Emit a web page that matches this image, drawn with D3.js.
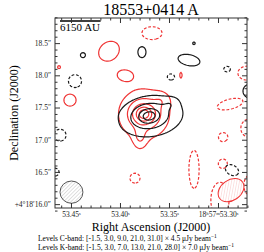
<!DOCTYPE html>
<html lang="en">
<head>
<meta charset="UTF-8">
<title>18553+0414 A</title>
<script src="https://cdn.jsdelivr.net/npm/d3@7"></script>
<style>
  body { margin: 0; background: #fff; }
  text { font-family: "Liberation Serif", "DejaVu Serif", serif; }
</style>
</head>
<body>
<svg width="264" height="252"></svg>
<script>
var title = "18553+0414 A";
// RA in seconds of 18h57m, Dec in arcsec of +4°18'
var xTicks = [53.45, 53.40, 53.35, 53.30];
var xTickLabels = ["53.45ˢ", "53.40ˢ", "53.35ˢ", "18ʰ57ᵐ53.30ˢ"];
var yTicks = [16.0, 16.5, 17.0, 17.5, 18.0, 18.5];
var yTickLabels = ["+4°18′16.0″", "16.5″", "17.0″", "17.5″", "18.0″", "18.5″"];
var raRange = [53.4663, 53.2704];
var decRange = [15.94, 18.89];

var cLevels = [-1.5, 3.0, 9.0, 21.0, 31.0], cRms = 4.5;
var kLevels = [-1.5, 3.0, 7.0, 13.0, 21.0, 28.0], kRms = 7.0;

// emission: [ra, dec, peak (x rms), sigma x ("), sigma y ("), angle]
var cComps = [
  [53.3690, 17.366, 12, 0.30, 0.19, 8],
  [53.3704, 17.370, 26, 0.12, 0.085, 8],
  [53.3490, 17.553, 4, 0.08, 0.06, 20],
  [53.4378, 18.314, 3.6, 0.064, 0.064, 0],
  [53.3776, 18.360, 4.2, 0.075, 0.103, 0],
  [53.3296, 18.236, 4.5, 0.188, 0.094, -12],
  [53.3245, 18.500, 3.1, 0.06, 0.06, 0],
  [53.2673, 17.755, 4.0, 0.142, 0.142, 0],
  [53.4459, 17.910, -2.6, 0.095, 0.095, 0],
  [53.3480, 17.972, -2.0, 0.081, 0.071, 0],
  [53.2908, 18.096, -2.0, 0.071, 0.06, 0],
  [53.4112, 17.211, -2.3, 0.067, 0.1, 0],
  [53.4612, 17.071, -2.4, 0.095, 0.095, 0],
  [53.4663, 16.497, -2.0, 0.081, 0.081, 0],
  [53.2857, 16.528, -2.2, 0.123, 0.088, -30]
];
var kComps = [
  [53.3755, 17.398, 10, 0.25, 0.25, 0],
  [53.3755, 17.398, 24, 0.1, 0.09, 0],
  [53.3796, 17.025, 5, 0.07, 0.12, 0],
  [53.3571, 17.615, 3, 0.09, 0.09, 0],
  [53.4112, 18.376, 4.8, 0.175, 0.143, 40],
  [53.3949, 18.003, 3.8, 0.145, 0.1, 0],
  [53.4510, 17.615, 4.2, 0.113, 0.113, 0],
  [53.4622, 18.127, 3.15, 0.074, 0.074, 0],
  [53.3378, 18.003, 3.15, 0.05, 0.123, 0],
  [53.3674, 18.655, -2.6, 0.147, 0.095, 0],
  [53.2704, 18.034, -2.4, 0.143, 0.111, 0],
  [53.2878, 17.553, -2.4, 0.206, 0.079, 15],
  [53.2684, 17.180, -2.4, 0.127, 0.143, 0],
  [53.2949, 17.040, -2.0, 0.091, 0.091, 0],
  [53.3245, 16.543, -2.8, 0.069, 0.262, 0],
  [53.3847, 16.404, -2.1, 0.094, 0.094, 0],
  [53.2949, 16.637, -1.9, 0.078, 0.078, 0],
  [53.2980, 16.062, -2.6, 0.132, 0.264, 0],
  [53.2673, 16.295, -2.4, 0.095, 0.159, 0]
];
// beams: [ra, dec, major ("), minor ("), angle]
var cBeam = [53.4495, 16.186, 0.35, 0.34, 0];
var kBeam = [53.2867, 16.217, 0.43, 0.31, 35];
var barLength = 0.62, barLabel = "6150 AU";

var svg = d3.select("svg");
var mLeft = 55, mRight = 247, mTop = 18, mBottom = 208;
var cBlack = "#1a1a1a", cRed = "#ef3434";

var xScale = d3.scaleLinear().domain(raRange).range([mLeft, mRight]);
var yScale = d3.scaleLinear().domain(decRange).range([mBottom, mTop]);
var cosd = Math.cos((4 + 18 / 60) * Math.PI / 180);
var pxPerArcsec = Math.abs(xScale(0) - xScale(1)) / (15 * cosd);

function field(comps, ra, dec) {
  var s = 0;
  comps.forEach(function (c) {
    var dx = (c[0] - ra) * 15 * cosd, dy = dec - c[1];
    var a = c[5] * Math.PI / 180;
    var u = dx * Math.cos(a) + dy * Math.sin(a);
    var v = -dx * Math.sin(a) + dy * Math.cos(a);
    s += c[2] * Math.exp(-0.5 * (u * u / (c[3] * c[3]) + v * v / (c[4] * c[4])));
  });
  return s;
}

var defs = svg.append("defs");
defs.append("clipPath").attr("id", "frame")
  .append("rect").attr("x", mLeft).attr("y", mTop)
  .attr("width", mRight - mLeft).attr("height", mBottom - mTop);

function hatch(id, color) {
  var p = defs.append("pattern").attr("id", id)
    .attr("patternUnits", "userSpaceOnUse")
    .attr("width", 2.6).attr("height", 2.6)
    .attr("patternTransform", "rotate(45)");
  p.append("rect").attr("width", 2.6).attr("height", 2.6).attr("fill", "#fff");
  p.append("line").attr("x1", 0).attr("y1", 0).attr("x2", 0).attr("y2", 2.6)
    .attr("stroke", color).attr("stroke-width", 0.6);
}
hatch("hatchC", "#9a9a9a");
hatch("hatchK", "#f4a0a0");

// grid for contouring
var x0 = mLeft - 2, y0 = mTop - 2, nx = mRight - mLeft + 4, ny = mBottom - mTop + 4;
var plot = svg.append("g").attr("clip-path", "url(#frame)");
var path = d3.geoPath(d3.geoIdentity().translate([x0 - 0.5, y0 - 0.5]));

function drawBand(comps, levels, color) {
  var values = new Array(nx * ny);
  for (var j = 0; j < ny; j++) {
    for (var i = 0; i < nx; i++) {
      values[j * nx + i] = field(comps, xScale.invert(x0 + i), yScale.invert(y0 + j));
    }
  }
  var pos = levels.filter(function (d) { return d > 0; });
  var neg = levels.filter(function (d) { return d < 0; }).map(function (d) { return -d; });
  var cont = d3.contours().size([nx, ny]);
  plot.append("g").selectAll("path")
    .data(cont.thresholds(pos)(values))
    .enter().append("path")
    .attr("d", path)
    .attr("fill", "none").attr("stroke", color).attr("stroke-width", 1.2);
  plot.append("g").selectAll("path")
    .data(cont.thresholds(neg)(values.map(function (v) { return -v; })))
    .enter().append("path")
    .attr("d", path)
    .attr("fill", "none").attr("stroke", color).attr("stroke-width", 1.2)
    .attr("stroke-dasharray", "2.8,1.8");
}
drawBand(kComps, kLevels, cRed);
drawBand(cComps, cLevels, cBlack);

function drawBeam(b, fill, stroke) {
  var cx = xScale(b[0]), cy = yScale(b[1]);
  plot.append("ellipse")
    .attr("cx", cx).attr("cy", cy)
    .attr("rx", b[2] / 2 * pxPerArcsec).attr("ry", b[3] / 2 * pxPerArcsec)
    .attr("transform", "rotate(" + (-b[4]) + "," + cx + "," + cy + ")")
    .attr("fill", fill).attr("stroke", stroke).attr("stroke-width", 1);
}
drawBeam(cBeam, "url(#hatchC)", "#555");
drawBeam(kBeam, "url(#hatchK)", cRed);

// scale bar
svg.append("line")
  .attr("x1", mLeft + 5).attr("x2", mLeft + 5 + barLength * pxPerArcsec)
  .attr("y1", mTop + 3).attr("y2", mTop + 3)
  .attr("stroke", "#000").attr("stroke-width", 1.5);
svg.append("text").attr("x", mLeft + 5).attr("y", mTop + 13)
  .attr("font-size", 11).text(barLabel);

// axes, ticks pointing inward
function minor(lo, hi, step, major) {
  return d3.range(Math.round(lo / step), Math.round(hi / step) + 1)
    .map(function (k) { return +(k * step).toFixed(3); })
    .filter(function (v) { return major.indexOf(v) < 0; });
}
var xMinor = minor(53.27, 53.46, 0.01, xTicks);
var yMinor = minor(15.9, 18.9, 0.1, yTicks);

function styleAxis(g) {
  g.select(".domain").remove();
  g.selectAll("line").attr("stroke", "#333");
  g.selectAll("text").attr("font-size", 7.5).attr("fill", "#222")
    .attr("font-family", "'Liberation Serif', 'DejaVu Serif', serif");
}
svg.append("g").attr("transform", "translate(0," + mBottom + ")")
  .call(d3.axisBottom(xScale).tickValues(xTicks).tickSize(-5).tickPadding(4)
    .tickFormat(function (d) { return xTickLabels[xTicks.indexOf(d)]; }))
  .call(styleAxis);
svg.append("g").attr("transform", "translate(0," + mBottom + ")")
  .call(d3.axisBottom(xScale).tickValues(xMinor).tickSize(-2.5).tickFormat(""))
  .call(styleAxis);
svg.append("g").attr("transform", "translate(0," + mTop + ")")
  .call(d3.axisTop(xScale).tickValues(xTicks).tickSize(-5).tickFormat(""))
  .call(styleAxis);
svg.append("g").attr("transform", "translate(0," + mTop + ")")
  .call(d3.axisTop(xScale).tickValues(xMinor).tickSize(-2.5).tickFormat(""))
  .call(styleAxis);
svg.append("g").attr("transform", "translate(" + mLeft + ",0)")
  .call(d3.axisLeft(yScale).tickValues(yTicks).tickSize(-5).tickPadding(4)
    .tickFormat(function (d) { return yTickLabels[yTicks.indexOf(d)]; }))
  .call(styleAxis);
svg.append("g").attr("transform", "translate(" + mLeft + ",0)")
  .call(d3.axisLeft(yScale).tickValues(yMinor).tickSize(-2.5).tickFormat(""))
  .call(styleAxis);
svg.append("g").attr("transform", "translate(" + mRight + ",0)")
  .call(d3.axisRight(yScale).tickValues(yTicks).tickSize(-5).tickFormat(""))
  .call(styleAxis);
svg.append("g").attr("transform", "translate(" + mRight + ",0)")
  .call(d3.axisRight(yScale).tickValues(yMinor).tickSize(-2.5).tickFormat(""))
  .call(styleAxis);

svg.append("rect").attr("x", mLeft).attr("y", mTop)
  .attr("width", mRight - mLeft).attr("height", mBottom - mTop)
  .attr("fill", "none").attr("stroke", "#333").attr("stroke-width", 1);

// titles
svg.append("text").attr("x", (mLeft + mRight) / 2).attr("y", 15)
  .attr("text-anchor", "middle").attr("font-size", 16).text(title);
svg.append("text").attr("x", (mLeft + mRight) / 2).attr("y", 231)
  .attr("text-anchor", "middle").attr("font-size", 12).text("Right Ascension (J2000)");
svg.append("text").attr("transform", "translate(18," + (mTop + mBottom) / 2 + ") rotate(-90)")
  .attr("text-anchor", "middle").attr("font-size", 12).text("Declination (J2000)");

function levelLine(y, band, levels, rms) {
  var t = svg.append("text").attr("x", 38).attr("y", y).attr("font-size", 7.5);
  t.append("tspan").text("Levels " + band + "-band: [" +
    levels.map(function (d) { return d.toFixed(1); }).join(", ") +
    "] × " + rms.toFixed(1) + " μJy beam");
  t.append("tspan").attr("dy", -3).attr("font-size", 5.5).text("−1");
}
levelLine(241, "C", cLevels, cRms);
levelLine(250, "K", kLevels, kRms);
</script>
</body>
</html>
